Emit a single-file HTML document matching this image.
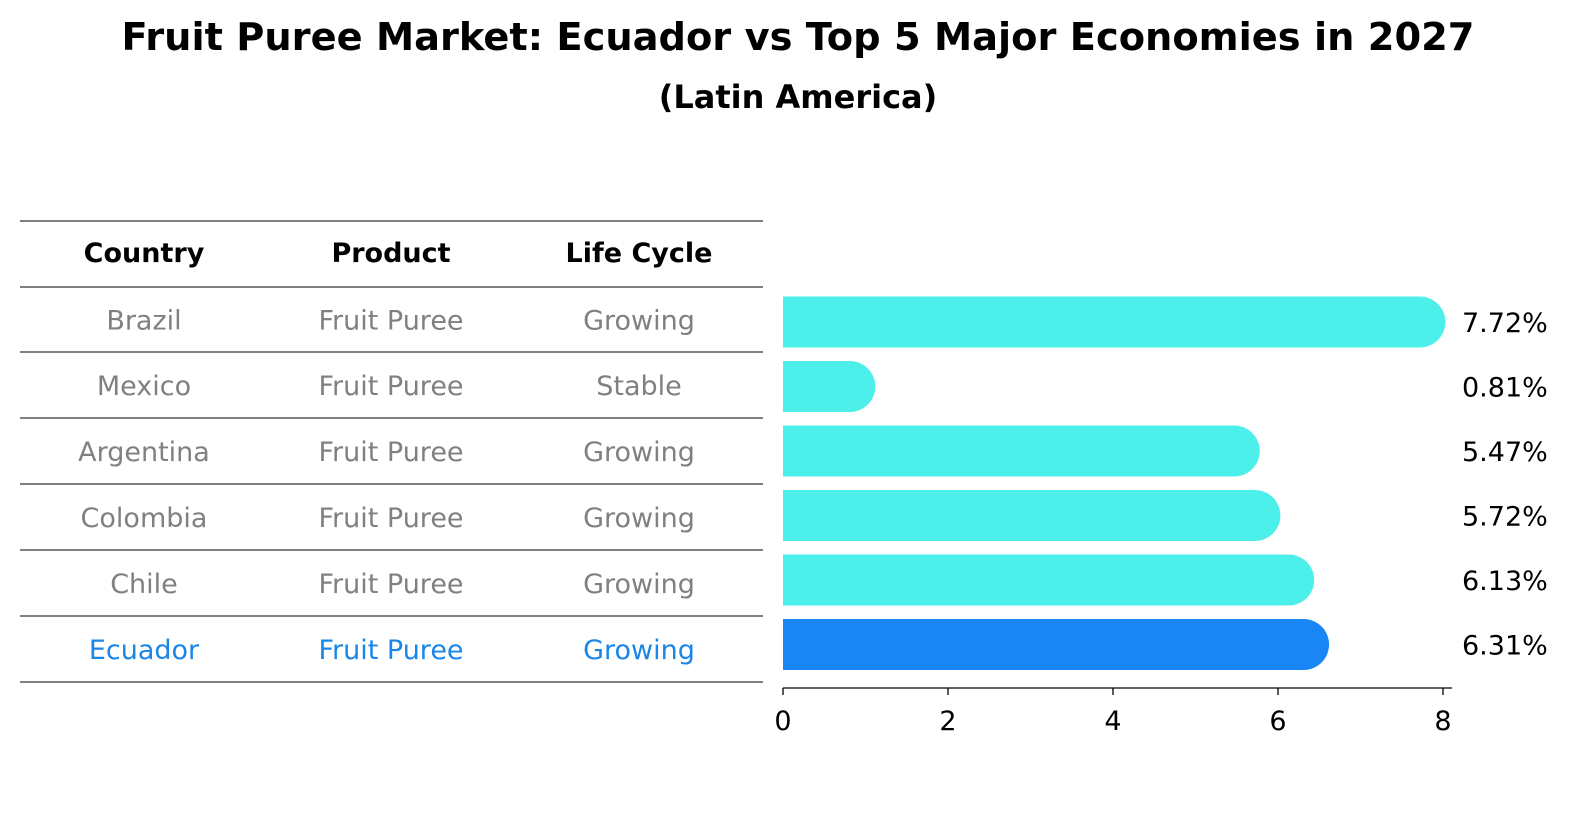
<!DOCTYPE html>
<html><head><meta charset="utf-8"><style>
body{margin:0;background:#fff;font-family:"DejaVu Sans","Liberation Sans",sans-serif;}
svg text{font-family:"DejaVu Sans","Liberation Sans",sans-serif;}
</style></head><body>
<svg id="chart" width="1586" height="823" xmlns="http://www.w3.org/2000/svg">
<text x="798" y="50" text-anchor="middle" font-size="38" font-weight="bold" textLength="1353" lengthAdjust="spacingAndGlyphs">Fruit Puree Market: Ecuador vs Top 5 Major Economies in 2027</text>
<text x="798" y="108" text-anchor="middle" font-size="32" font-weight="bold">(Latin America)</text>
<g id="table"></g>
<g id="bars"></g>
<g id="axis"></g>
</svg>
<script>
const countries=["Brazil","Mexico","Argentina","Colombia","Chile","Ecuador"];
const products=["Fruit Puree","Fruit Puree","Fruit Puree","Fruit Puree","Fruit Puree","Fruit Puree"];
const lifeCycles=["Growing","Stable","Growing","Growing","Growing","Growing"];
const values=[7.72,0.81,5.47,5.72,6.13,6.31];
const ticks=[0,2,4,6,8];
const NS="http://www.w3.org/2000/svg";
function mk(tag,attrs,parent,text){const e=document.createElementNS(NS,tag);for(const k in attrs)e.setAttribute(k,attrs[k]);if(text!==undefined)e.textContent=text;parent.appendChild(e);return e;}
const x=v=>783+v*82.5;
const rowY=i=>322+i*64.5;
const table=document.getElementById('table'),bars=document.getElementById('bars'),axis=document.getElementById('axis');
const lineYs=[221,287,352,418,484,550,616,682];
lineYs.forEach(y=>{const l=mk('line',{x1:20,x2:763,y1:y,y2:y,stroke:'#000','stroke-width':1},table);

});
const cols=[144,391,639];
["Country","Product","Life Cycle"].forEach((h,j)=>{const t=mk('text',{x:cols[j],y:262,'text-anchor':'middle','font-size':27,'font-weight':'bold'},table,h);

});
countries.forEach((c,i)=>{
 const cy=(lineYs[i+1]+lineYs[i+2])/2+10;
 const col=c==="Ecuador"?"#1a86e8":"#808080";
 [c,products[i],lifeCycles[i]].forEach((s,j)=>{const t=mk('text',{x:cols[j],y:cy,'text-anchor':'middle','font-size':27,fill:col},table,s);
 
 });
 const yc=rowY(i),h=51,r=25.5;
 const fill=c==="Ecuador"?"#1a86f5":"#4cefea";
 const xe=x(values[i]);
 const p=mk('path',{d:`M${x(0)},${yc-h/2} L${xe},${yc-h/2} A${r},${r} 0 0 1 ${xe},${yc+h/2} L${x(0)},${yc+h/2} Z`,fill:fill},bars);
 
 
 const lt=mk('text',{x:1462,y:yc+10,'font-size':27},bars,values[i].toFixed(2)+'%');
 
 
});
const al=mk('line',{x1:783,x2:1452,y1:688,y2:688,stroke:'#000','stroke-width':1.3},axis);


ticks.forEach(t=>{const tl=mk('line',{x1:x(t),x2:x(t),y1:688,y2:695,stroke:'#000','stroke-width':1.3},axis);


const tt=mk('text',{x:x(t),y:730,'text-anchor':'middle','font-size':27},axis,String(t));

});
</script>
</body></html>
